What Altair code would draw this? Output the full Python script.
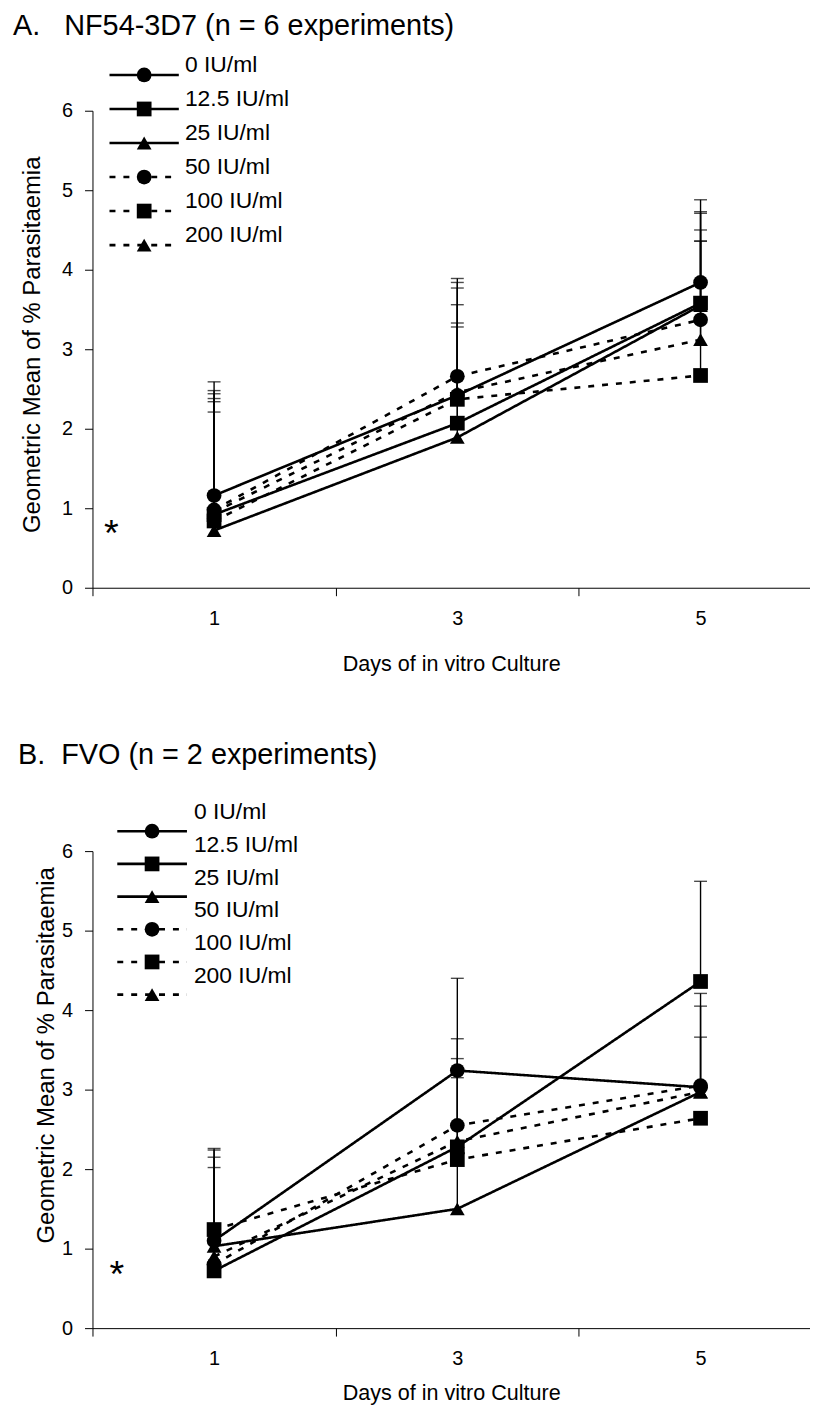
import altair as alt
import pandas as pd

days = [1, 3, 5]
doses = ["0 IU/ml", "12.5 IU/ml", "25 IU/ml", "50 IU/ml", "100 IU/ml", "200 IU/ml"]
marker_shapes = ["circle", "square", "triangle-up", "circle", "square", "triangle-up"]
dash_styles = [[1, 0], [1, 0], [1, 0], [6, 8], [6, 8], [6, 8]]

# Panel A: NF54-3D7 geometric means
a_0 = [1.16, 2.42, 3.84]
a_12 = [0.92, 2.07, 3.58]
a_25 = [0.72, 1.89, 3.55]
a_50 = [0.98, 2.66, 3.37]
a_100 = [0.84, 2.37, 2.67]
a_200 = [0.95, 2.46, 3.12]
# Panel A: upper ends of error bars
a_0_up = [2.59, 3.84, 4.88]
a_12_up = [2.38, 3.33, 4.73]
a_25_up = [2.21, 3.28, 4.71]
a_50_up = [2.48, 3.89, 4.50]
a_100_up = [2.34, 3.77, 4.36]
a_200_up = [2.44, 3.56, 4.36]

# Panel B: FVO geometric means
b_0 = [1.10, 3.24, 3.03]
b_12 = [0.72, 2.28, 4.36]
b_25 = [1.03, 1.50, 2.97]
b_50 = [0.80, 2.55, 3.05]
b_100 = [1.24, 2.12, 2.64]
b_200 = [0.90, 2.35, 2.97]
# Panel B: upper ends of error bars
b_0_up = [2.26, 4.40, 4.05]
b_12_up = [2.02, 3.39, 5.62]
b_25_up = [2.15, 3.15, 3.66]
b_50_up = [2.24, 3.64, 4.21]
b_100_up = [None, None, None]
b_200_up = [None, None, None]

FONT = "Liberation Sans"
W, H = 722, 480
XMAX = 5.9


def make_panel(title, title_dx, title_dy, means, ups, leg, star, ytitle_xy, xtitle_pad):
    rows = []
    for dose, m, u in zip(doses, means, ups):
        for d, v, e in zip(days, m, u):
            rows.append({"day": d, "dose": dose, "value": v, "err": e})
    df = pd.DataFrame(rows)

    xs = alt.Scale(domain=[0, XMAX], nice=False, zero=False)
    ys = alt.Scale(domain=[0, 6], nice=False, zero=False)
    dash_scale = alt.Scale(domain=doses, range=dash_styles)
    shape_scale = alt.Scale(domain=doses, range=marker_shapes)

    x_axis = alt.Axis(
        values=[0, 1, 2, 3, 4, 5],
        labelExpr="datum.value % 2 == 1 ? datum.label : ''",
        tickOpacity={"condition": {"test": "datum.value % 2 == 1", "value": 0}, "value": 1},
        tickSize=8, tickColor="black", domainColor="black", domainWidth=1,
        labelFontSize=20, labelPadding=13, labelFont=FONT, labelColor="black",
        title="Days of in vitro Culture", titleFontSize=21.7, titleFont=FONT,
        titleFontWeight="normal", titleColor="black", titlePadding=xtitle_pad,
        grid=False, labelFlush=False,
    )
    y_axis = alt.Axis(
        values=[0, 1, 2, 3, 4, 5, 6],
        tickSize=8, tickColor="black", domainColor="black", domainWidth=1,
        labelFontSize=20, labelPadding=12, labelFont=FONT, labelColor="black",
        title="Geometric Mean of % Parasitaemia", titleFontSize=24, titleFont=FONT,
        titleFontWeight="normal", titleColor="black",
        titleX=ytitle_xy[0], titleY=ytitle_xy[1],
        grid=False,
    )

    def X(f):
        return alt.X(f, scale=xs, axis=x_axis)

    def Y(f):
        return alt.Y(f, scale=ys, axis=y_axis)

    base = alt.Chart(df)
    errs = base.transform_filter("isValid(datum.err)")
    err_rule = errs.mark_rule(color="black", strokeWidth=1.4).encode(
        x=X("day:Q"), y=Y("value:Q"), y2="err:Q")
    err_cap = errs.mark_tick(color="black", orient="horizontal", size=13, thickness=1.4).encode(
        x=X("day:Q"), y=Y("err:Q"))

    lines = base.mark_line(color="black", strokeWidth=2.6).encode(
        x=X("day:Q"), y=Y("value:Q"), detail="dose:N", order="day:Q",
        strokeDash=alt.StrokeDash("dose:N", scale=dash_scale, legend=None))
    pts = base.mark_point(filled=True, color="black", opacity=1, size=220, strokeWidth=0).encode(
        x=X("day:Q"), y=Y("value:Q"), shape=alt.Shape("dose:N", scale=shape_scale, legend=None))

    # legend built from the dose list
    lx0, lx1, lm, lt, ltop, lstep, ldy = leg
    ldf = pd.DataFrame({
        "dose": doses,
        "ly": [ltop - i * lstep for i in range(len(doses))],
        "lx0": [lx0] * len(doses), "lx1": [lx1] * len(doses),
        "lm": [lm] * len(doses), "lt": [lt] * len(doses),
    })
    lbase = alt.Chart(ldf)
    leg_rule = lbase.mark_rule(color="black", strokeWidth=2.6).encode(
        x=X("lx0:Q"), x2="lx1:Q", y=Y("ly:Q"),
        strokeDash=alt.StrokeDash("dose:N", scale=dash_scale, legend=None))
    leg_pts = lbase.mark_point(filled=True, color="black", opacity=1, size=220, strokeWidth=0).encode(
        x=X("lm:Q"), y=Y("ly:Q"),
        shape=alt.Shape("dose:N", scale=shape_scale, legend=None))
    leg_txt = lbase.mark_text(align="left", baseline="middle", dy=ldy, fontSize=23,
                              font=FONT, color="black").encode(
        x=X("lt:Q"), y=Y("ly:Q"), text="dose:N")

    sdf = pd.DataFrame({"sx": [star[0]], "sy": [star[1]], "s": ["*"]})
    star_txt = alt.Chart(sdf).mark_text(fontSize=38, font=FONT, baseline="middle", dy=10,
                                        color="black").encode(
        x=X("sx:Q"), y=Y("sy:Q"), text="s:N")

    tdf = pd.DataFrame({"t": [title]})
    title_txt = alt.Chart(tdf).mark_text(align="left", baseline="alphabetic", fontSize=29,
                                         font=FONT, color="black").encode(
        x=alt.value(title_dx), y=alt.value(title_dy), text="t:N")

    return alt.layer(err_rule, err_cap, lines, pts, leg_rule, leg_pts, leg_txt,
                     star_txt, title_txt).properties(width=W, height=H)


panel_a = make_panel(
    "A.\u00a0\u00a0\u00a0NF54-3D7 (n = 6 experiments)", -80, -76,
    [a_0, a_12, a_25, a_50, a_100, a_200],
    [a_0_up, a_12_up, a_25_up, a_50_up, a_100_up, a_200_up],
    (0.14, 0.71, 0.425, 0.76, 6.45, 0.428, -10),
    (0.155, 0.79),
    (-48, 235), 25,
)
panel_b = make_panel(
    "B.\u00a0\u00a0FVO (n = 2 experiments)", -75, -88,
    [b_0, b_12, b_25, b_50, b_100, b_200],
    [b_0_up, b_12_up, b_25_up, b_50_up, b_100_up, b_200_up],
    (0.204, 0.777, 0.49, 0.834, 6.25, 0.411, -19),
    (0.2, 0.78),
    (-34, 205), 14,
)

chart = alt.vconcat(panel_a, panel_b, spacing=265, bounds="flush").properties(
    padding={"left": 5, "top": 0, "right": 0, "bottom": 0}
).configure_view(strokeWidth=0)

chart.save("out.html", embed_options={"renderer": "svg", "actions": False})
